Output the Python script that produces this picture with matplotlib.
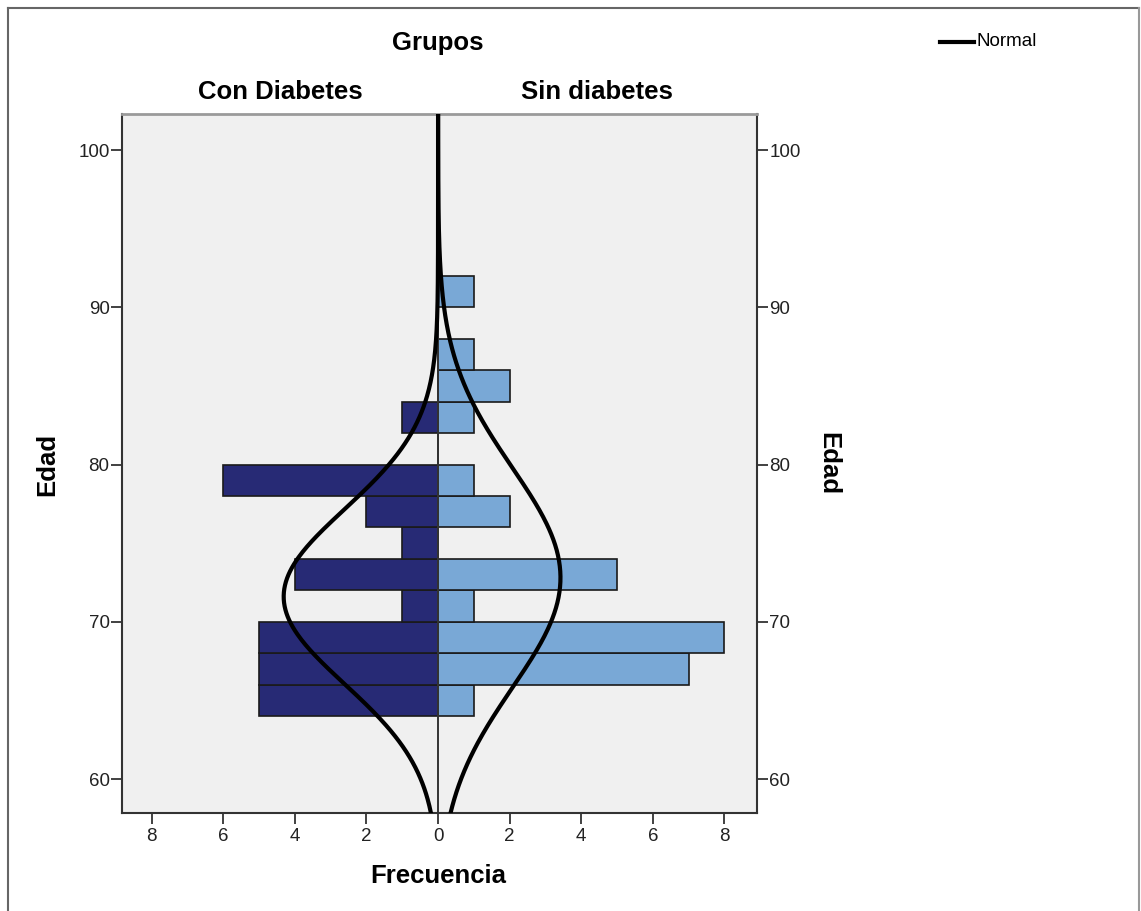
import numpy as np
import matplotlib
matplotlib.use('Agg')
import matplotlib.pyplot as plt
from matplotlib.lines import Line2D

plt.rcParams['font.family'] = ['Liberation Sans', 'DejaVu Sans']

# age bins (lower edge, width 2) and counts per group
bin_lo = [64, 66, 68, 70, 72, 74, 76, 78, 80, 82, 84, 86, 88, 90]
con_diab = [5, 5, 5, 1, 4, 1, 2, 6, 0, 1, 0, 0, 0, 0]
sin_diab = [1, 7, 8, 1, 5, 0, 2, 1, 0, 1, 2, 1, 0, 1]
bin_w = 2

# fitted normal curves (mean, sd)
con_mean, con_sd = 71.6, 5.55
sin_mean, sin_sd = 72.8, 7.0

xticks = [-8, -6, -4, -2, 0, 2, 4, 6, 8]
yticks = [60, 70, 80, 90, 100]

W, H = 1141, 911
fig = plt.figure(figsize=(W / 100, H / 100), dpi=100)
ax = fig.add_axes([122 / W, (H - 813) / H, 635 / W, 699 / H])
ax.set_facecolor('#f0f0f0')

ax.barh(bin_lo, [-c for c in con_diab], height=bin_w, align='edge',
        color='#272a75', edgecolor='#1a1a1a', linewidth=1.2, zorder=2)
ax.barh(bin_lo, sin_diab, height=bin_w, align='edge',
        color='#79a8d6', edgecolor='#1a1a1a', linewidth=1.2, zorder=2)

ax.axvline(0, color='#333333', lw=1.4, zorder=3)

ylo, yhi = 57.84, 102.29
yy = np.linspace(ylo, yhi, 400)
def normal(y, m, s, n):
    return n * bin_w / (s * np.sqrt(2 * np.pi)) * np.exp(-0.5 * ((y - m) / s) ** 2)
ax.plot(-normal(yy, con_mean, con_sd, sum(con_diab)), yy, color='black', lw=3, zorder=4)
ax.plot(normal(yy, sin_mean, sin_sd, sum(sin_diab)), yy, color='black', lw=3, zorder=4)

ax.set_xlim(-8.83, 8.91)
ax.set_ylim(ylo, yhi)
ax.set_xticks(xticks)
ax.set_xticklabels([str(abs(t)) for t in xticks])
ax.set_yticks(yticks)
ax.tick_params(axis='both', direction='out', length=8, width=1.3, color='#333333',
               labelsize=13.5, labelcolor='#222222', pad=3)
ax.tick_params(axis='y', left=True, right=True, labelleft=True, labelright=True, pad=1)

for side in ['left', 'right', 'bottom']:
    ax.spines[side].set_color('#333333')
    ax.spines[side].set_linewidth(1.5)
ax.spines['top'].set_color('#9a9a9a')
ax.spines['top'].set_linewidth(2)

# texts
def fx(px):
    return px / W
def fy(py):
    return 1 - py / H

fig.text(fx(438), fy(43), 'Grupos', ha='center', va='center', fontsize=18.5, fontweight='bold')
fig.text(fx(280), fy(92), 'Con Diabetes', ha='center', va='center', fontsize=18.5, fontweight='bold')
fig.text(fx(597), fy(92), 'Sin diabetes', ha='center', va='center', fontsize=18.5, fontweight='bold')
fig.text(fx(438), fy(876), 'Frecuencia', ha='center', va='center', fontsize=18.5, fontweight='bold')
fig.text(fx(47), fy(464), 'Edad', ha='center', va='center', fontsize=18.5, fontweight='bold', rotation=90)
fig.text(fx(828), fy(464), 'Edad', ha='center', va='center', fontsize=18.5, fontweight='bold', rotation=270)

# legend
fig.add_artist(Line2D([fx(940), fx(974)], [fy(42), fy(42)], color='black', lw=3))
fig.text(fx(977), fy(42), 'Normal', ha='left', va='center', fontsize=13.5)

# outer frame
fig.add_artist(Line2D([fx(8), fx(8)], [0, fy(8)], color='#666666', lw=1.5))
fig.add_artist(Line2D([fx(8), fx(1139)], [fy(8), fy(8)], color='#666666', lw=1.5))
fig.add_artist(Line2D([fx(1139), fx(1139)], [0, fy(8)], color='#999999', lw=1.5))

fig.savefig('out.png', dpi=100)
